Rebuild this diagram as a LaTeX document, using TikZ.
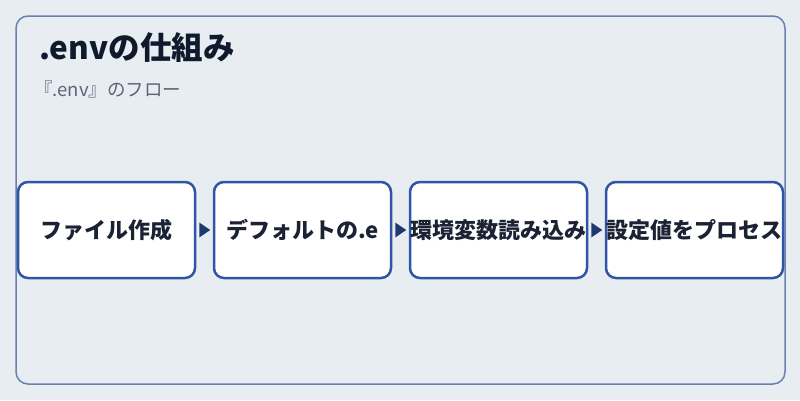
\documentclass[tikz,border=0pt]{standalone}
\usepackage{fontspec}
\setmainfont{Noto Sans CJK JP}
\usetikzlibrary{positioning}
\definecolor{bgc}{HTML}{E8EDF2}
\definecolor{panelline}{HTML}{6A80B2}
\definecolor{boxline}{HTML}{2F56A3}
\definecolor{titlec}{HTML}{0F1B2D}
\definecolor{subc}{HTML}{5B667A}
\definecolor{arrowc}{HTML}{1E3A6E}
\definecolor{textc}{HTML}{1A2233}
\tikzset{
  stepbox/.style={draw=boxline, line width=2.5pt, fill=white, rounded corners=10pt,
    minimum width=177pt, minimum height=96pt, inner sep=0pt,
    font=\fontsize{22}{26}\selectfont\bfseries, text=textc},
  flowarrow/.style={fill=arrowc, draw=none}
}
\begin{document}
\begin{tikzpicture}[x=1pt,y=-1pt]
\useasboundingbox[fill=bgc] (0,0) rectangle (800,400);
\draw[panelline, line width=1.5pt, fill=bgc, rounded corners=12pt] (16,16) rectangle (785,384);
\node[anchor=base west, font=\fontsize{31.5}{36}\selectfont\bfseries, text=titlec, inner sep=0pt] (title) at (39,59) {.envの仕組み};
\node[anchor=base west, font=\fontsize{18.5}{22}\selectfont, text=subc, inner sep=0pt] (sub) at (34,96) {『.env』のフロー};
\node[stepbox] (b1) at (106.5,230) {ファイル作成};
\node[stepbox] (b2) at (302.5,230) {デフォルトの.e};
\node[stepbox] (b3) at (498.5,230) {環境変数読み込み};
\node[stepbox] (b4) at (694.5,230) {設定値をプロセス};
\foreach \a/\b in {b1/b2,b2/b3,b3/b4}{
  \path[flowarrow] ([xshift=3pt]\a.east) ++(0,-7.5) -- ++(11,7.5) -- ++(-11,7.5) -- cycle;
}
\end{tikzpicture}
\end{document}
